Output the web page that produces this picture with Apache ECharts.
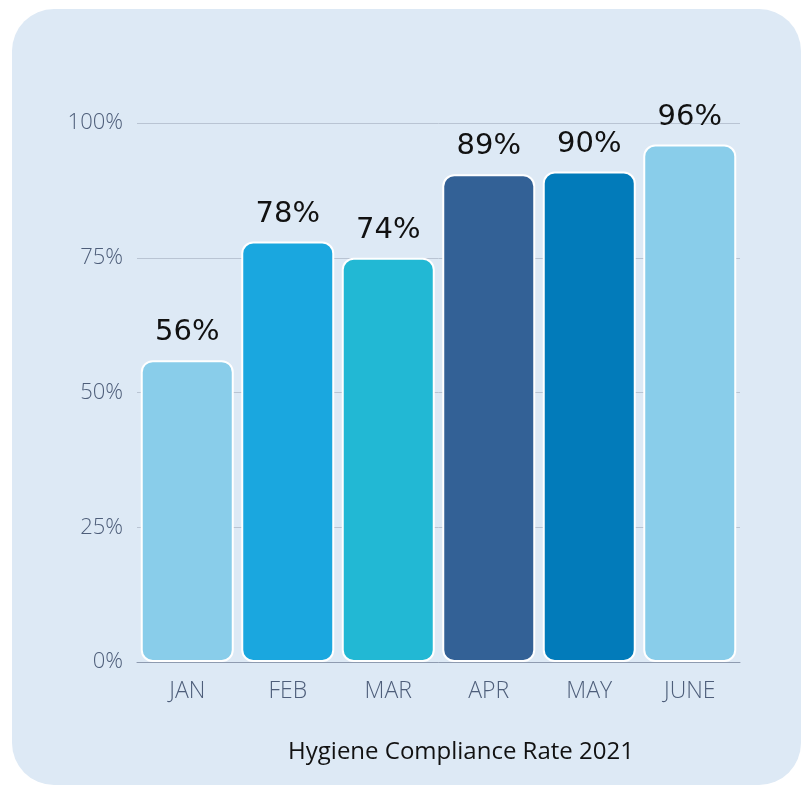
<!DOCTYPE html>
<html>
<head>
<meta charset="utf-8">
<script src="https://cdn.jsdelivr.net/npm/echarts@6/dist/echarts.min.js"></script>
<style>
  html, body { margin: 0; padding: 0; background: #ffffff; }
  #main { width: 807px; height: 785px; }
</style>
</head>
<body>
<div id="main"></div>
<script>
// data
var months = ['JAN', 'FEB', 'MAR', 'APR', 'MAY', 'JUNE'];
var rates = [56, 78, 75, 90.5, 91, 96];
var rateLabels = ['56%', '78%', '74%', '89%', '90%', '96%'];
var barColors = ['#89cdea', '#1aa7df', '#22b8d4', '#336196', '#027bba', '#89cdea'];
var yTicks = [0, 25, 50, 75, 100];

var chart = echarts.init(document.getElementById('main'));

var option = {
    animation: false,
    backgroundColor: '#ffffff',
    graphic: [{
        type: 'rect',
        z: -10,
        shape: {x: 12, y: 9, width: 789, height: 776, r: 42},
        style: {fill: '#dde9f5'}
    }],
    title: {
        text: 'Hygiene Compliance Rate 2021',
        left: 456,
        top: 735,
        textAlign: 'center',
        textStyle: {
            fontFamily: 'Open Sans',
            fontSize: 24,
            fontWeight: 'normal',
            color: '#111111'
        }
    },
    grid: {left: 137, right: 67, top: 123, bottom: 123},
    xAxis: {
        type: 'category',
        data: months,
        axisTick: {show: false},
        axisLine: {lineStyle: {color: '#8e9bb0', width: 1}},
        axisLabel: {
            margin: 18,
            fontFamily: 'Open Sans',
            fontWeight: 300,
            fontSize: 23,
            color: '#4e5e7a'
        }
    },
    yAxis: {
        type: 'value',
        min: 0,
        max: 100,
        interval: 25,
        axisLine: {show: false},
        axisTick: {show: false},
        splitLine: {lineStyle: {color: '#b9c4d3', width: 1}},
        axisLabel: {
            margin: 14,
            fontFamily: 'Open Sans',
            fontWeight: 300,
            fontSize: 22,
            color: '#4e5e7a',
            formatter: function (v) {
                return yTicks.indexOf(v) >= 0 ? v + '%' : '';
            }
        }
    },
    series: [{
        type: 'bar',
        barWidth: 93,
        data: rates.map(function (v, i) {
            return {
                value: v,
                itemStyle: {color: barColors[i]}
            };
        }),
        itemStyle: {
            borderColor: '#ffffff',
            borderWidth: 2,
            borderRadius: 11
        },
        label: {
            show: true,
            position: 'top',
            distance: 13,
            fontFamily: 'DejaVu Sans',
            fontSize: 29,
            color: '#111111',
            formatter: function (p) {
                return rateLabels[p.dataIndex];
            }
        }
    }]
};

chart.setOption(option);
</script>
</body>
</html>
